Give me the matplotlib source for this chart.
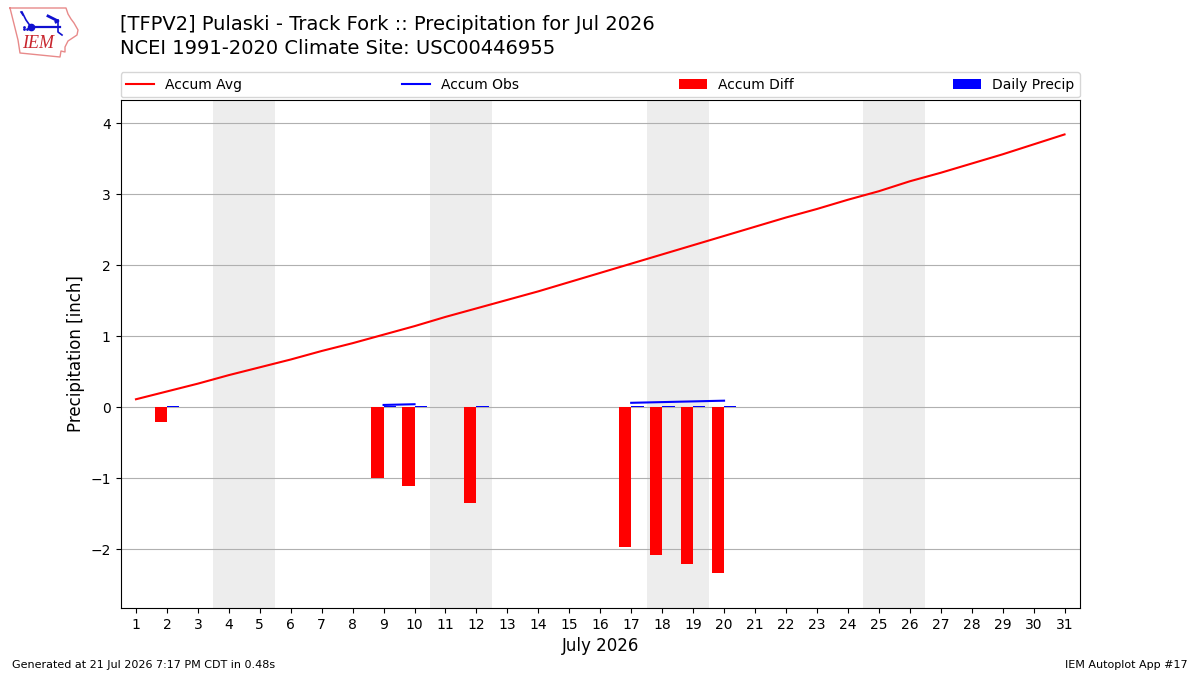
from matplotlib import pyplot as plt
import numpy as np

days = list(range(1, 32))
accum_avg = [0.11, 0.22, 0.33, 0.45, 0.56, 0.67, 0.79, 0.90, 1.02, 1.14, 1.27,
             1.39, 1.51, 1.63, 1.76, 1.89, 2.02, 2.15, 2.28, 2.41, 2.54, 2.67,
             2.79, 2.92, 3.04, 3.18, 3.30, 3.43, 3.56, 3.70, 3.84]

# accumulated obs only exists on the consecutive reporting days
obs_days = [9, 10, 17, 18, 19, 20]
accum_obs = [0.03, 0.04, 0.06, 0.07, 0.08, 0.09]

precip_days = [2, 9, 10, 12, 17, 18, 19, 20]
daily_precip = [0.01, 0.01, 0.01, 0.01, 0.01, 0.01, 0.01, 0.01]
accum_diff = [-0.21, -1.00, -1.11, -1.35, -1.97, -2.08, -2.21, -2.33]

weekends = [(3.5, 5.5), (10.5, 12.5), (17.5, 19.5), (24.5, 26.5)]

W, H = 1200, 675
fig = plt.figure(figsize=(12, 6.75), dpi=100)
ax = fig.add_axes([120.5 / W, 1 - 608 / H, 959.5 / W, 508 / H])

for start, end in weekends:
    ax.axvspan(start, end, color='#ededed', lw=0, zorder=0)

ax.bar(precip_days, accum_diff, width=-0.4, align='edge', color='r', label='Accum Diff', zorder=2)
ax.bar(precip_days, daily_precip, width=0.4, align='edge', color='b', label='Daily Precip', zorder=2)
ax.plot(days, accum_avg, color='r', lw=1.5, label='Accum Avg', zorder=3)

# break the obs line between reporting stretches
obs_y = np.full(31, np.nan)
for d, v in zip(obs_days, accum_obs):
    obs_y[d - 1] = v
ax.plot(days, obs_y, color='b', lw=1.5, label='Accum Obs', zorder=3)

ax.set_axisbelow(True)
ax.grid(axis='y', color='#b0b0b0', lw=0.8)
ax.set_xlim(0.5, 31.5)
ax.set_ylim(-2.83, 4.325)
ax.set_xticks(days)
ax.set_xticklabels([str(d) for d in days])
ax.tick_params(labelsize=10)
ax.set_yticks([-2, -1, 0, 1, 2, 3, 4])
ax.set_xlabel('July 2026', fontsize=12)
ax.set_ylabel('Precipitation [inch]', fontsize=12)

handles, labels = ax.get_legend_handles_labels()
order = [labels.index(n) for n in ['Accum Avg', 'Accum Obs', 'Accum Diff', 'Daily Precip']]
ax.legend([handles[i] for i in order], [labels[i] for i in order], ncol=4, mode='expand',
          loc='lower left', bbox_to_anchor=(0, 1.005, 1, 0.05), borderaxespad=0, fontsize=10)

fig.text(120 / W, 1 - 25 / H, '[TFPV2] Pulaski - Track Fork :: Precipitation for Jul 2026',
         fontsize=14, va='center', ha='left')
fig.text(120 / W, 1 - 48 / H, 'NCEI 1991-2020 Climate Site: USC00446955',
         fontsize=14, va='center', ha='left')
fig.text(12 / W, 1 - 665 / H, 'Generated at 21 Jul 2026 7:17 PM CDT in 0.48s',
         fontsize=8, va='center', ha='left')
fig.text(1188 / W, 1 - 665 / H, 'IEM Autoplot App #17', fontsize=8, va='center', ha='right')

# IEM logo, pixel coordinates
logo = fig.add_axes([0, 1 - 60 / H, 85 / W, 60 / H])
logo.set_xlim(0, 85)
logo.set_ylim(60, 0)
logo.axis('off')
outline_x = [10, 66, 68, 71, 74, 78, 77, 71, 68, 65, 65, 61, 60, 20, 18, 16, 14, 12, 10]
outline_y = [8, 8, 14, 19, 23, 30, 35, 39, 41, 47, 52, 51, 57, 53, 40, 32, 24, 16, 8]
logo.plot(outline_x, outline_y, color='#e88a8a', lw=1)
logo.plot([30, 60], [27, 27], color='#1010d0', lw=1.6)
logo.plot([31], [27], 'o', color='#1010d0', ms=4.5)
logo.plot([22, 26, 31], [12, 20, 27], color='#1010d0', lw=1.2)
logo.plot([21, 23], [12, 15], color='#1010d0', lw=1.2)
logo.plot([48, 58, 56], [16, 21, 22], color='#1010d0', lw=2)
logo.plot([58, 58, 62], [20, 32, 35], color='#1010d0', lw=1.2)
logo.plot([24, 27, 24], [29, 29, 27], '.', color='#1010d0', ms=2)
logo.text(38, 44, 'IEM', color='#c8242c', fontsize=13, family='Liberation Serif', style='italic',
          ha='center', va='center')

plt.savefig('out.png', dpi=100)
